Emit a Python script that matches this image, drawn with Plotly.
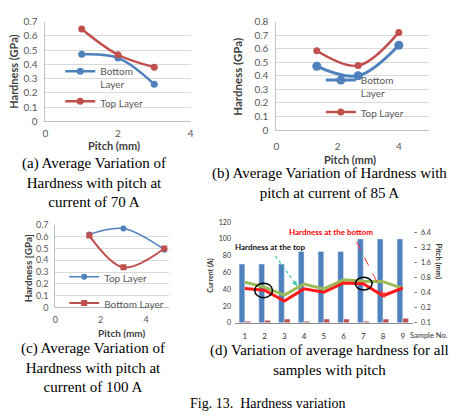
import math
import plotly.graph_objects as go

W, H = 463, 418
def px(x): return x / W
def py(y): return 1 - y / H

# ---------------- data ----------------
a_pitch = [1, 2, 3]
a_bottom = [0.47, 0.445, 0.26]
a_top = [0.648, 0.467, 0.38]

b_pitch = [1.32, 2.67, 4.0]
b_bottom = [0.47, 0.40, 0.625]
b_top = [0.585, 0.475, 0.72]

c_pitch = [1.5, 3.0, 4.8]
c_top = [0.62, 0.67, 0.49]
c_bottom = [0.61, 0.34, 0.50]

d_samples = [1, 2, 3, 4, 5, 6, 7, 8, 9]
d_current = [70, 70, 70, 85, 85, 85, 100, 100, 100]
d_pitch_bar = [2, 3, 4.5, 2, 4.5, 4.5, 2, 4.5, 5.5]
d_hard_top = [0.65, 0.52, 0.36, 0.60, 0.48, 0.73, 0.68, 0.67, 0.49]
d_hard_bottom = [0.49, 0.45, 0.275, 0.48, 0.41, 0.63, 0.61, 0.35, 0.50]
d_right_ticks = [0.1, 0.2, 0.4, 0.8, 1.6, 3.2, 6.4]
d_right_labels = ["0.1", "0.2", "0.4", "0.8", "1.6", "3.2", "6.4"]
d_left_ticks = [0, 20, 40, 60, 80, 100, 120]

BLUE = "#4f81bd"
RED = "#c0504d"
GREEN = "#9bbb59"
BRED = "#ff1a1a"
TICKC = "#595959"
TITC = "#404040"
FONT = "Lato"
SERIF = "Liberation Serif"

fig = go.Figure()

# panel a
fig.add_trace(go.Scatter(x=a_pitch, y=a_bottom, name="Bottom<br>Layer", mode="lines+markers",
                         line=dict(color=BLUE, width=2.5, shape="spline"), marker=dict(size=7, color=BLUE),
                         xaxis="x", yaxis="y", legend="legend", legendgroup="ab"))
fig.add_trace(go.Scatter(x=a_pitch, y=a_top, name="Top Layer", mode="lines+markers",
                         line=dict(color=RED, width=2.5, shape="spline"), marker=dict(size=7, color=RED),
                         xaxis="x", yaxis="y", legend="legend", legendgroup="at"))
# panel b
fig.add_trace(go.Scatter(x=b_pitch, y=b_bottom, name="Bottom<br>Layer", mode="lines+markers",
                         line=dict(color=BLUE, width=3, shape="spline"), marker=dict(size=9, color=BLUE),
                         xaxis="x2", yaxis="y2", legend="legend2", legendgroup="bb"))
fig.add_trace(go.Scatter(x=b_pitch, y=b_top, name="Top Layer", mode="lines+markers",
                         line=dict(color=RED, width=2.5, shape="spline"), marker=dict(size=7, color=RED),
                         xaxis="x2", yaxis="y2", legend="legend2", legendgroup="bt"))
# panel c
fig.add_trace(go.Scatter(x=c_pitch, y=c_top, name="Top Layer", mode="lines+markers",
                         line=dict(color=BLUE, width=1.5, shape="spline"), marker=dict(size=6, color=BLUE),
                         xaxis="x3", yaxis="y3", legend="legend5"))
fig.add_trace(go.Scatter(x=c_pitch, y=c_bottom, name="Bottom Layer", mode="lines+markers",
                         line=dict(color=RED, width=2, shape="spline"),
                         marker=dict(size=6, color=RED, symbol="square"),
                         xaxis="x3", yaxis="y3", legend="legend4"))
# panel d
fig.add_trace(go.Bar(x=d_samples, y=d_current, marker_color=BLUE, showlegend=False,
                     xaxis="x4", yaxis="y4", offsetgroup="1"))
fig.add_trace(go.Bar(x=d_samples, y=d_pitch_bar, marker_color=RED, showlegend=False,
                     xaxis="x4", yaxis="y4", offsetgroup="2"))
fig.add_trace(go.Scatter(x=d_samples, y=d_hard_top, mode="lines", line=dict(color=GREEN, width=3),
                         showlegend=False, xaxis="x4", yaxis="y5"))
fig.add_trace(go.Scatter(x=d_samples, y=d_hard_bottom, mode="lines", line=dict(color=BRED, width=3),
                         showlegend=False, xaxis="x4", yaxis="y5"))

tf = dict(family=FONT, size=10, color=TICKC)
common_x = dict(showgrid=False, showline=True, linecolor="#bfbfbf", linewidth=1, ticks="",
                zeroline=False, tickfont=tf, fixedrange=True)
common_y = dict(showgrid=True, gridcolor="#d9d9d9", gridwidth=1, showline=True, linecolor="#bfbfbf",
                linewidth=1, ticks="", zeroline=False, tickfont=tf, fixedrange=True)

legend_common = dict(bgcolor="rgba(0,0,0,0)", font=dict(family=FONT, size=10, color=TICKC),
                     itemwidth=30, valign="top", xanchor="left")

fig.update_layout(
    width=W, height=H, margin=dict(l=0, r=0, t=0, b=0),
    paper_bgcolor="white", plot_bgcolor="white",
    font=dict(family=FONT),
    barmode="group", bargap=0.42, bargroupgap=0,
    xaxis=dict(domain=[px(43), px(190)], range=[0, 4], dtick=2, anchor="y", ticklabelstandoff=3, **common_x),
    yaxis=dict(domain=[py(118), py(15)], range=[0, 0.7], dtick=0.1, anchor="x", ticklabelstandoff=5, **common_y),
    xaxis2=dict(domain=[px(277), px(432)], range=[0, 5], dtick=2, anchor="y2", ticklabelstandoff=7, **common_x),
    yaxis2=dict(domain=[py(127), py(15)], range=[0, 0.8], dtick=0.1, anchor="x2", ticklabelstandoff=5, **common_y),
    xaxis3=dict(domain=[px(53), px(168)], range=[0, 5], dtick=2, anchor="y3", ticklabelstandoff=4,
                **{**common_x, "tickfont": dict(family=FONT, size=9, color=TICKC)}),
    yaxis3=dict(domain=[py(310), py(225)], range=[0, 0.7], dtick=0.1, anchor="x3", ticklabelstandoff=4,
                **{**common_y, "tickfont": dict(family=FONT, size=9, color=TICKC)}),
    xaxis4=dict(domain=[px(235), px(415)], range=[0.5, 9.5], tickvals=d_samples, anchor="y4",
                showgrid=False, showline=True, linecolor="#8c8c8c", ticks="", zeroline=False,
                ticklabelstandoff=6, tickfont=dict(family=FONT, size=8, color="#333333")),
    yaxis4=dict(domain=[py(326), py(222)], range=[0, 120], tickvals=d_left_ticks, anchor="x4",
                showgrid=False, showline=False, ticks="", zeroline=False, ticklabelstandoff=3,
                tickfont=dict(family=FONT, size=7, color="#333333")),
    yaxis5=dict(overlaying="y4", side="right", anchor="x4", type="log",
                range=[-1, math.log10(10.47)], tickvals=d_right_ticks, ticktext=d_right_labels,
                showgrid=False, showline=False, ticks="outside", ticklen=3, tickcolor="#888888",
                ticklabelstandoff=3,
                zeroline=False, tickfont=dict(family=FONT, size=7, color="#333333")),
    yaxis6=dict(overlaying="y4", anchor="x4", range=[0, 120], tickvals=[0, 20, 40, 60],
                showgrid=True, gridcolor="#8c8c8c", gridwidth=1, showticklabels=False,
                showline=False, ticks="", zeroline=False),
    legend=dict(x=px(58), y=py(53), yanchor="top", tracegroupgap=1, **legend_common),
    legend2=dict(x=px(322), y=py(62), yanchor="top", tracegroupgap=3, **legend_common),
    legend5=dict(x=px(62), y=py(280), yanchor="middle", **legend_common),
    legend4=dict(x=px(62), y=py(292), yanchor="top", **legend_common),
)

ann = []
def text(x, y, s, size=11, color=TITC, bold=True, family=FONT, angle=0):
    ann.append(dict(x=px(x), y=py(y), xref="paper", yref="paper", showarrow=False,
                    text=f"<b>{s}</b>" if bold else s, textangle=angle,
                    font=dict(family=family, size=size, color=color), xanchor="center", yanchor="middle"))

# axis titles
text(11, 67, "Hardness (GPa)", 11, angle=-90)
text(112, 143, "Pitch (mm)", 11)
text(238, 72, "Hardness (GPa)", 11.5, angle=-90)
text(352, 157, "Pitch (mm)", 11)
text(25, 270, "Hardness [GPa]", 10, angle=-90)
text(121, 336, "Pitch (mm)", 10)
text(210, 277, "Current (A)", 7, color="#333333", angle=-90)
text(441, 263, "Pitch (mm)", 7.5, color="#333333", angle=90)
text(432, 339, "Sample No.", 7.5, color="#333333", bold=False)
# d annotations
text(332, 232, "Hardness at the bottom", 8, color="#ff0000")
text(270, 248, "Hardness at the top", 8, color="#111111")

# captions
cap = dict(bold=False, family=SERIF, size=15, color="black")
text(92, 181, "(a) Average Variation of<br>Hardness with pitch at<br>current of 70 A", **cap)
text(331, 182, "(b) Average Variation of Hardness with<br>pitch at current of 85 A", **cap)
text(91, 372, "(c) Average Variation of<br>Hardness with pitch at<br>current of 100 A", **cap)
text(331, 364, "(d) Variation of average hardness for all<br>samples with pitch", **cap)
text(268, 409, "Fig. 13.  Hardness variation", **{**cap, "size": 14})

# arrows (heads)
for (x0, y0, x1, y1, col) in [(276, 257, 298, 288, "#3cc8a8"), (358, 242, 387, 300, "#ff3333")]:
    ann.append(dict(x=px(x1), y=py(y1), xref="paper", yref="paper", showarrow=True,
                    ax=(x0 - x1) * 0.15, ay=(y0 - y1) * 0.15, text="", arrowhead=2,
                    arrowsize=1, arrowwidth=1, arrowcolor=col))
fig.update_layout(annotations=ann)

shapes = [
    dict(type="line", xref="paper", yref="paper", x0=px(276), y0=py(257), x1=px(298), y1=py(288),
         line=dict(color="#3cc8a8", width=1.2, dash="dot")),
    dict(type="line", xref="paper", yref="paper", x0=px(358), y0=py(242), x1=px(387), y1=py(300),
         line=dict(color="#ff3333", width=1, dash="dash")),
    dict(type="circle", xref="paper", yref="paper", x0=px(255), y0=py(300), x1=px(273), y1=py(285),
         line=dict(color="black", width=1.5)),
    dict(type="circle", xref="paper", yref="paper", x0=px(357), y0=py(292), x1=px(374), y1=py(279),
         line=dict(color="black", width=1.5)),
]
fig.update_layout(shapes=shapes)

fig.write_html("out.html")
